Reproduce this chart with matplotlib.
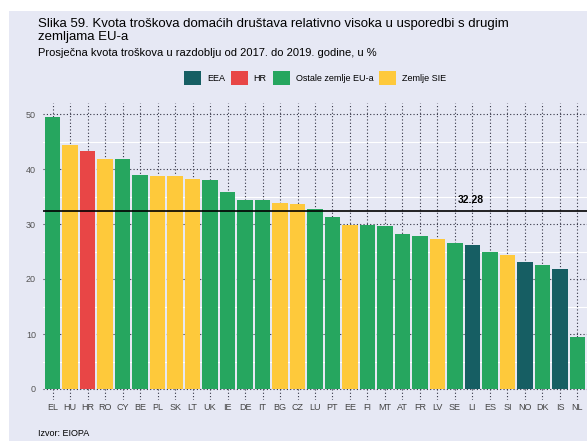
import matplotlib.pyplot as plt
from matplotlib.patches import Rectangle, Patch

plt.rcParams['font.family'] = ['Liberation Sans', 'DejaVu Sans']

countries = ['EL', 'HU', 'HR', 'RO', 'CY', 'BE', 'PL', 'SK', 'LT', 'UK', 'IE', 'DE', 'IT', 'BG', 'CZ',
             'LU', 'PT', 'EE', 'FI', 'MT', 'AT', 'FR', 'LV', 'SE', 'LI', 'ES', 'SI', 'NO', 'DK', 'IS', 'NL']
values = [49.4, 44.4, 43.3, 41.9, 41.75, 38.95, 38.7, 38.7, 38.1, 38.0, 35.8, 34.3, 34.3, 33.8, 33.6,
          32.7, 31.3, 29.8, 29.8, 29.6, 28.2, 27.8, 27.3, 26.5, 26.2, 24.9, 24.4, 23.1, 22.5, 21.8, 9.5]
groups = ['O', 'S', 'HR', 'S', 'O', 'O', 'S', 'S', 'S', 'O', 'O', 'O', 'O', 'S', 'S',
          'O', 'O', 'S', 'O', 'O', 'O', 'O', 'S', 'O', 'EEA', 'O', 'S', 'EEA', 'O', 'EEA', 'O']
mean_value = 32.28

group_colors = {'EEA': '#165E63', 'HR': '#E84646', 'O': '#26A65F', 'S': '#FEC93B'}
group_labels = {'EEA': 'EEA', 'HR': 'HR', 'O': 'Ostale zemlje EU-a', 'S': 'Zemlje SIE'}

bg = '#E6E8F4'
fig = plt.figure(figsize=(5.87, 4.41), dpi=100, facecolor='white')
fig.patches.append(Rectangle((9 / 587, 0), 1, (441 - 11) / 441, transform=fig.transFigure,
                             facecolor=bg, edgecolor='none', zorder=-10))

ax = fig.add_axes([43 / 587, (441 - 400) / 441, 544 / 587, 297 / 441])
ax.set_facecolor(bg)
x = list(range(len(countries)))
colors = [group_colors[g] for g in groups]
ax.bar(x, values, width=0.9, color=colors, zorder=2)
ax.axhline(mean_value, color='black', lw=1.2, zorder=3)
ax.text(23.9, 34.4, '%.2f' % mean_value, ha='center', va='center', fontsize=7.5,
        fontweight='bold', zorder=4)

ax.set_xlim(-0.55, 30.55)
ax.set_ylim(-2, 52)
ax.set_xticks(x)
ax.set_xticklabels(countries, fontsize=6.5, color='#444444')
ax.set_yticks(range(0, 51, 10))
ax.set_yticklabels([str(v) for v in range(0, 51, 10)], fontsize=6.5, color='#555555')
ax.tick_params(axis='x', length=0, pad=2.5)
ax.tick_params(axis='y', length=0, pad=5)
for s in ax.spines.values():
    s.set_visible(False)

# minor white grid, then dotted grid
for v in range(5, 51, 10):
    ax.axhline(v, color='white', lw=0.8, zorder=0)
for v in range(0, 51, 10):
    ax.axhline(v, color='#333344', lw=0.8, ls=(0, (1, 2)), zorder=1)
for xi in x:
    ax.axvline(xi, color='#333344', lw=0.8, ls=(0, (1, 2)), zorder=1)

fig.text(38 / 587, 1 - 17.5 / 441, 'Slika 59. Kvota troškova domaćih društava relativno visoka u usporedbi s drugim\nzemljama EU-a',
         fontsize=9.5, va='top', ha='left', linespacing=1.22)
fig.text(38 / 587, 1 - 53 / 441, 'Prosječna kvota troškova u razdoblju od 2017. do 2019. godine, u %',
         fontsize=8, va='center', ha='left')

handles = [Patch(facecolor=group_colors[k], label=group_labels[k]) for k in ['EEA', 'HR', 'O', 'S']]
fig.legend(handles=handles, loc='center', bbox_to_anchor=(315 / 587, 1 - 78 / 441), ncol=4,
           frameon=False, fontsize=6.5, handlelength=1.9, handleheight=1.85, handletextpad=0.65,
           columnspacing=0.65, borderpad=0)

fig.text(38 / 587, 1 - 434 / 441, 'Izvor: EIOPA', fontsize=6.5, va='center', ha='left')

fig.savefig('out.png', dpi=100, facecolor=fig.get_facecolor())
